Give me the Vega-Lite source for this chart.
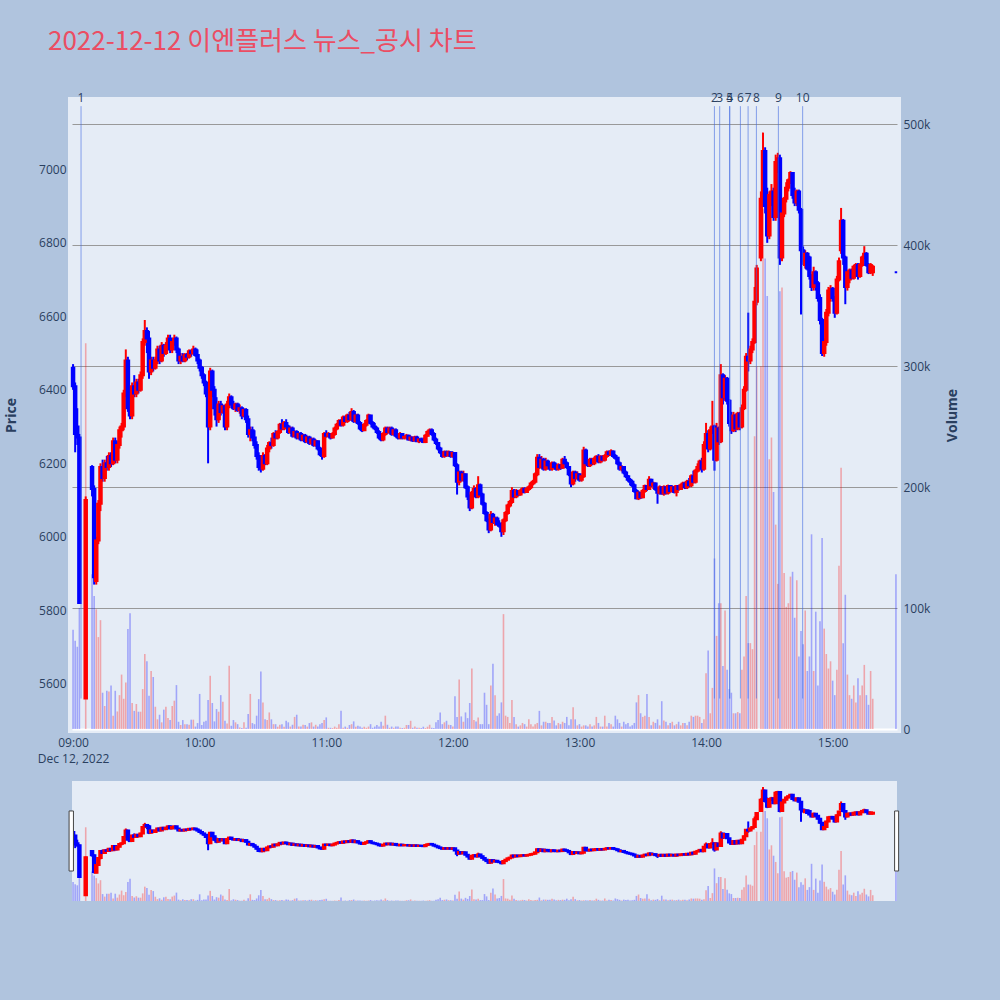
{
"$schema":"https://vega.github.io/schema/vega-lite/v6.json",
"padding":{"left":0,"top":29,"right":50,"bottom":110},
"background":"#B0C4DE",
"title":{"text":"2022-12-12 이엔플러스 뉴스_공시 차트","anchor":"start","frame":"group","font":"Noto Sans CJK KR","fontSize":26,"fontWeight":"normal","color":"#EB4D63","baseline":"alphabetic","offset":12,"dx":-24},
"config":{"view":{"stroke":null},"axis":{"labelFont":"Open Sans","labelFontSize":12,"labelColor":"#2a3f5f","titleFont":"Open Sans","titleColor":"#2a3f5f","titleFontSize":14,"titleFontWeight":"bold"}},
"datasets":{
"news":[{"tn":"2022-12-12T09:03:47Z","n":"1"},{"tn":"2022-12-12T14:03:58Z","n":"2"},{"tn":"2022-12-12T14:06:28Z","n":"3"},{"tn":"2022-12-12T14:11:13Z","n":"4"},{"tn":"2022-12-12T14:11:13Z","n":"5"},{"tn":"2022-12-12T14:16:17Z","n":"6"},{"tn":"2022-12-12T14:19:56Z","n":"7"},{"tn":"2022-12-12T14:23:52Z","n":"8"},{"tn":"2022-12-12T14:34:17Z","n":"9"},{"tn":"2022-12-12T14:45:47Z","n":"10"}],
"handles":[{"t0":"2022-12-12T08:58:07Z","t1":"2022-12-12T09:00:11Z"},{"t0":"2022-12-12T15:29:22Z","t1":"2022-12-12T15:31:16Z"}],
"candles":[
{"t":"2022-12-12T09:00Z","o":6460,"h":6470,"l":6400,"c":6410,"v":82000},
{"t":"2022-12-12T09:01Z","o":6410,"h":6420,"l":6230,"c":6280,"v":73000},
{"t":"2022-12-12T09:02Z","o":6300,"h":6350,"l":6250,"c":6270,"v":68000},
{"t":"2022-12-12T09:03Z","o":6270,"h":6280,"l":5820,"c":5820,"v":100000},
{"t":"2022-12-12T09:06Z","o":5560,"h":6110,"l":5560,"c":6100,"v":319000},
{"t":"2022-12-12T09:09Z","o":6190,"h":6195,"l":6110,"c":6130,"v":128000},
{"t":"2022-12-12T09:10Z","o":6130,"h":6140,"l":5870,"c":5890,"v":110000},
{"t":"2022-12-12T09:11Z","o":5880,"h":6000,"l":5870,"c":5990,"v":99000},
{"t":"2022-12-12T09:12Z","o":5990,"h":6100,"l":5980,"c":6090,"v":76000},
{"t":"2022-12-12T09:13Z","o":6090,"h":6200,"l":6070,"c":6190,"v":90000},
{"t":"2022-12-12T09:14Z","o":6190,"h":6210,"l":6150,"c":6160,"v":30000},
{"t":"2022-12-12T09:15Z","o":6160,"h":6210,"l":6150,"c":6200,"v":19000},
{"t":"2022-12-12T09:16Z","o":6200,"h":6220,"l":6180,"c":6190,"v":31600},
{"t":"2022-12-12T09:17Z","o":6190,"h":6230,"l":6180,"c":6220,"v":31000},
{"t":"2022-12-12T09:18Z","o":6220,"h":6230,"l":6190,"c":6200,"v":36000},
{"t":"2022-12-12T09:19Z","o":6200,"h":6270,"l":6195,"c":6260,"v":11000},
{"t":"2022-12-12T09:20Z","o":6260,"h":6270,"l":6200,"c":6210,"v":31600},
{"t":"2022-12-12T09:21Z","o":6210,"h":6260,"l":6200,"c":6250,"v":14500},
{"t":"2022-12-12T09:22Z","o":6250,"h":6300,"l":6240,"c":6290,"v":28000},
{"t":"2022-12-12T09:23Z","o":6290,"h":6310,"l":6270,"c":6300,"v":45000},
{"t":"2022-12-12T09:24Z","o":6300,"h":6400,"l":6290,"c":6390,"v":25000},
{"t":"2022-12-12T09:25Z","o":6390,"h":6510,"l":6380,"c":6480,"v":38500},
{"t":"2022-12-12T09:26Z","o":6480,"h":6490,"l":6340,"c":6350,"v":82600},
{"t":"2022-12-12T09:27Z","o":6350,"h":6370,"l":6320,"c":6330,"v":95800},
{"t":"2022-12-12T09:28Z","o":6330,"h":6420,"l":6320,"c":6410,"v":21500},
{"t":"2022-12-12T09:29Z","o":6410,"h":6440,"l":6380,"c":6390,"v":15000},
{"t":"2022-12-12T09:30Z","o":6390,"h":6430,"l":6380,"c":6420,"v":20600},
{"t":"2022-12-12T09:31Z","o":6420,"h":6430,"l":6390,"c":6400,"v":14300},
{"t":"2022-12-12T09:32Z","o":6400,"h":6450,"l":6395,"c":6440,"v":14300},
{"t":"2022-12-12T09:33Z","o":6440,"h":6540,"l":6430,"c":6530,"v":33000},
{"t":"2022-12-12T09:34Z","o":6530,"h":6590,"l":6520,"c":6560,"v":62000},
{"t":"2022-12-12T09:35Z","o":6560,"h":6570,"l":6500,"c":6540,"v":56000},
{"t":"2022-12-12T09:36Z","o":6540,"h":6560,"l":6430,"c":6450,"v":27500},
{"t":"2022-12-12T09:37Z","o":6450,"h":6490,"l":6440,"c":6480,"v":48000},
{"t":"2022-12-12T09:38Z","o":6480,"h":6490,"l":6450,"c":6460,"v":43000},
{"t":"2022-12-12T09:39Z","o":6460,"h":6490,"l":6455,"c":6480,"v":18400},
{"t":"2022-12-12T09:40Z","o":6480,"h":6520,"l":6470,"c":6510,"v":8000},
{"t":"2022-12-12T09:41Z","o":6510,"h":6520,"l":6470,"c":6480,"v":11800},
{"t":"2022-12-12T09:42Z","o":6480,"h":6530,"l":6475,"c":6520,"v":5500},
{"t":"2022-12-12T09:43Z","o":6520,"h":6525,"l":6490,"c":6500,"v":16000},
{"t":"2022-12-12T09:44Z","o":6500,"h":6530,"l":6495,"c":6520,"v":18400},
{"t":"2022-12-12T09:45Z","o":6520,"h":6550,"l":6510,"c":6540,"v":9000},
{"t":"2022-12-12T09:46Z","o":6540,"h":6550,"l":6500,"c":6510,"v":7400},
{"t":"2022-12-12T09:47Z","o":6510,"h":6540,"l":6500,"c":6530,"v":19000},
{"t":"2022-12-12T09:48Z","o":6530,"h":6550,"l":6520,"c":6540,"v":23400},
{"t":"2022-12-12T09:49Z","o":6540,"h":6545,"l":6500,"c":6510,"v":36300},
{"t":"2022-12-12T09:50Z","o":6510,"h":6515,"l":6470,"c":6480,"v":6000},
{"t":"2022-12-12T09:51Z","o":6480,"h":6500,"l":6470,"c":6490,"v":3300},
{"t":"2022-12-12T09:52Z","o":6490,"h":6500,"l":6475,"c":6480,"v":7400},
{"t":"2022-12-12T09:53Z","o":6480,"h":6500,"l":6475,"c":6495,"v":4000},
{"t":"2022-12-12T09:54Z","o":6495,"h":6500,"l":6480,"c":6490,"v":4000},
{"t":"2022-12-12T09:55Z","o":6490,"h":6510,"l":6485,"c":6505,"v":3500},
{"t":"2022-12-12T09:56Z","o":6505,"h":6510,"l":6490,"c":6500,"v":7700},
{"t":"2022-12-12T09:57Z","o":6500,"h":6520,"l":6495,"c":6510,"v":7700},
{"t":"2022-12-12T09:58Z","o":6510,"h":6515,"l":6490,"c":6495,"v":2000},
{"t":"2022-12-12T09:59Z","o":6495,"h":6510,"l":6470,"c":6480,"v":4900},
{"t":"2022-12-12T10:00Z","o":6480,"h":6485,"l":6450,"c":6460,"v":29000},
{"t":"2022-12-12T10:01Z","o":6460,"h":6465,"l":6430,"c":6440,"v":3300},
{"t":"2022-12-12T10:02Z","o":6440,"h":6445,"l":6410,"c":6420,"v":6000},
{"t":"2022-12-12T10:03Z","o":6420,"h":6425,"l":6380,"c":6390,"v":6800},
{"t":"2022-12-12T10:04Z","o":6390,"h":6400,"l":6200,"c":6300,"v":24000},
{"t":"2022-12-12T10:05Z","o":6300,"h":6460,"l":6290,"c":6450,"v":44000},
{"t":"2022-12-12T10:06Z","o":6450,"h":6455,"l":6380,"c":6400,"v":21500},
{"t":"2022-12-12T10:07Z","o":6400,"h":6410,"l":6330,"c":6350,"v":6300},
{"t":"2022-12-12T10:08Z","o":6350,"h":6380,"l":6300,"c":6320,"v":16500},
{"t":"2022-12-12T10:09Z","o":6320,"h":6370,"l":6310,"c":6360,"v":14300},
{"t":"2022-12-12T10:10Z","o":6360,"h":6370,"l":6330,"c":6340,"v":28000},
{"t":"2022-12-12T10:11Z","o":6340,"h":6360,"l":6335,"c":6355,"v":22500},
{"t":"2022-12-12T10:12Z","o":6355,"h":6360,"l":6290,"c":6300,"v":6800},
{"t":"2022-12-12T10:13Z","o":6300,"h":6370,"l":6290,"c":6360,"v":4600},
{"t":"2022-12-12T10:14Z","o":6360,"h":6390,"l":6350,"c":6380,"v":52300},
{"t":"2022-12-12T10:15Z","o":6380,"h":6385,"l":6350,"c":6360,"v":2700},
{"t":"2022-12-12T10:16Z","o":6360,"h":6370,"l":6345,"c":6350,"v":7400},
{"t":"2022-12-12T10:17Z","o":6350,"h":6365,"l":6340,"c":6360,"v":5500},
{"t":"2022-12-12T10:18Z","o":6360,"h":6365,"l":6340,"c":6345,"v":4000},
{"t":"2022-12-12T10:19Z","o":6345,"h":6360,"l":6335,"c":6350,"v":1300},
{"t":"2022-12-12T10:20Z","o":6350,"h":6355,"l":6320,"c":6330,"v":800},
{"t":"2022-12-12T10:21Z","o":6330,"h":6350,"l":6325,"c":6345,"v":5500},
{"t":"2022-12-12T10:22Z","o":6345,"h":6350,"l":6310,"c":6320,"v":1000},
{"t":"2022-12-12T10:23Z","o":6320,"h":6330,"l":6270,"c":6280,"v":12400},
{"t":"2022-12-12T10:24Z","o":6280,"h":6300,"l":6260,"c":6290,"v":29000},
{"t":"2022-12-12T10:25Z","o":6290,"h":6300,"l":6260,"c":6270,"v":4900},
{"t":"2022-12-12T10:26Z","o":6270,"h":6290,"l":6240,"c":6250,"v":4000},
{"t":"2022-12-12T10:27Z","o":6250,"h":6260,"l":6210,"c":6220,"v":11000},
{"t":"2022-12-12T10:28Z","o":6220,"h":6230,"l":6180,"c":6190,"v":24700},
{"t":"2022-12-12T10:29Z","o":6190,"h":6200,"l":6175,"c":6185,"v":47600},
{"t":"2022-12-12T10:30Z","o":6185,"h":6230,"l":6180,"c":6220,"v":22000},
{"t":"2022-12-12T10:31Z","o":6220,"h":6225,"l":6195,"c":6200,"v":8000},
{"t":"2022-12-12T10:32Z","o":6200,"h":6250,"l":6195,"c":6240,"v":7400},
{"t":"2022-12-12T10:33Z","o":6240,"h":6260,"l":6230,"c":6255,"v":13700},
{"t":"2022-12-12T10:34Z","o":6255,"h":6270,"l":6240,"c":6250,"v":8000},
{"t":"2022-12-12T10:35Z","o":6250,"h":6285,"l":6245,"c":6280,"v":4000},
{"t":"2022-12-12T10:36Z","o":6280,"h":6290,"l":6265,"c":6270,"v":4000},
{"t":"2022-12-12T10:37Z","o":6270,"h":6290,"l":6265,"c":6285,"v":1900},
{"t":"2022-12-12T10:38Z","o":6285,"h":6310,"l":6280,"c":6305,"v":3500},
{"t":"2022-12-12T10:39Z","o":6305,"h":6320,"l":6290,"c":6295,"v":4000},
{"t":"2022-12-12T10:40Z","o":6295,"h":6315,"l":6290,"c":6310,"v":1900},
{"t":"2022-12-12T10:41Z","o":6310,"h":6320,"l":6295,"c":6300,"v":6800},
{"t":"2022-12-12T10:42Z","o":6300,"h":6305,"l":6280,"c":6285,"v":5500},
{"t":"2022-12-12T10:43Z","o":6285,"h":6300,"l":6280,"c":6295,"v":2000},
{"t":"2022-12-12T10:44Z","o":6295,"h":6300,"l":6270,"c":6275,"v":3500},
{"t":"2022-12-12T10:45Z","o":6275,"h":6290,"l":6270,"c":6285,"v":10000},
{"t":"2022-12-12T10:46Z","o":6285,"h":6290,"l":6265,"c":6270,"v":11800},
{"t":"2022-12-12T10:47Z","o":6270,"h":6285,"l":6265,"c":6280,"v":2000},
{"t":"2022-12-12T10:48Z","o":6280,"h":6285,"l":6260,"c":6265,"v":2000},
{"t":"2022-12-12T10:49Z","o":6265,"h":6280,"l":6260,"c":6275,"v":3500},
{"t":"2022-12-12T10:50Z","o":6275,"h":6280,"l":6255,"c":6260,"v":3300},
{"t":"2022-12-12T10:51Z","o":6260,"h":6275,"l":6255,"c":6270,"v":2000},
{"t":"2022-12-12T10:52Z","o":6270,"h":6275,"l":6250,"c":6255,"v":4900},
{"t":"2022-12-12T10:53Z","o":6255,"h":6270,"l":6250,"c":6265,"v":5500},
{"t":"2022-12-12T10:54Z","o":6265,"h":6270,"l":6245,"c":6250,"v":2000},
{"t":"2022-12-12T10:55Z","o":6250,"h":6265,"l":6245,"c":6260,"v":3500},
{"t":"2022-12-12T10:56Z","o":6260,"h":6262,"l":6235,"c":6240,"v":2000},
{"t":"2022-12-12T10:57Z","o":6240,"h":6245,"l":6220,"c":6225,"v":4000},
{"t":"2022-12-12T10:58Z","o":6225,"h":6230,"l":6210,"c":6220,"v":4900},
{"t":"2022-12-12T10:59Z","o":6220,"h":6285,"l":6215,"c":6280,"v":7400},
{"t":"2022-12-12T11:00Z","o":6280,"h":6290,"l":6270,"c":6275,"v":9600},
{"t":"2022-12-12T11:01Z","o":6275,"h":6285,"l":6270,"c":6280,"v":1000},
{"t":"2022-12-12T11:02Z","o":6280,"h":6282,"l":6265,"c":6270,"v":1000},
{"t":"2022-12-12T11:03Z","o":6270,"h":6285,"l":6268,"c":6280,"v":800},
{"t":"2022-12-12T11:04Z","o":6280,"h":6300,"l":6275,"c":6295,"v":2000},
{"t":"2022-12-12T11:05Z","o":6295,"h":6310,"l":6290,"c":6305,"v":1000},
{"t":"2022-12-12T11:06Z","o":6305,"h":6320,"l":6300,"c":6315,"v":4000},
{"t":"2022-12-12T11:07Z","o":6315,"h":6320,"l":6300,"c":6305,"v":15000},
{"t":"2022-12-12T11:08Z","o":6305,"h":6330,"l":6300,"c":6325,"v":1000},
{"t":"2022-12-12T11:09Z","o":6325,"h":6330,"l":6310,"c":6315,"v":2000},
{"t":"2022-12-12T11:10Z","o":6315,"h":6335,"l":6310,"c":6330,"v":1000},
{"t":"2022-12-12T11:11Z","o":6330,"h":6340,"l":6315,"c":6320,"v":3300},
{"t":"2022-12-12T11:12Z","o":6320,"h":6350,"l":6315,"c":6340,"v":4000},
{"t":"2022-12-12T11:13Z","o":6340,"h":6345,"l":6310,"c":6315,"v":6300},
{"t":"2022-12-12T11:14Z","o":6315,"h":6335,"l":6310,"c":6330,"v":1900},
{"t":"2022-12-12T11:15Z","o":6330,"h":6335,"l":6305,"c":6310,"v":2700},
{"t":"2022-12-12T11:16Z","o":6310,"h":6315,"l":6290,"c":6295,"v":2000},
{"t":"2022-12-12T11:17Z","o":6295,"h":6300,"l":6285,"c":6290,"v":1000},
{"t":"2022-12-12T11:18Z","o":6290,"h":6310,"l":6288,"c":6305,"v":1900},
{"t":"2022-12-12T11:19Z","o":6305,"h":6320,"l":6300,"c":6315,"v":1000},
{"t":"2022-12-12T11:20Z","o":6315,"h":6335,"l":6310,"c":6330,"v":2000},
{"t":"2022-12-12T11:21Z","o":6330,"h":6332,"l":6305,"c":6310,"v":4000},
{"t":"2022-12-12T11:22Z","o":6310,"h":6315,"l":6295,"c":6300,"v":1000},
{"t":"2022-12-12T11:23Z","o":6300,"h":6310,"l":6290,"c":6295,"v":2000},
{"t":"2022-12-12T11:24Z","o":6295,"h":6300,"l":6280,"c":6285,"v":3300},
{"t":"2022-12-12T11:25Z","o":6285,"h":6290,"l":6265,"c":6270,"v":2000},
{"t":"2022-12-12T11:26Z","o":6270,"h":6275,"l":6260,"c":6265,"v":6000},
{"t":"2022-12-12T11:27Z","o":6265,"h":6285,"l":6260,"c":6280,"v":2700},
{"t":"2022-12-12T11:28Z","o":6280,"h":6300,"l":6275,"c":6295,"v":11000},
{"t":"2022-12-12T11:29Z","o":6295,"h":6300,"l":6280,"c":6285,"v":3500},
{"t":"2022-12-12T11:30Z","o":6285,"h":6300,"l":6280,"c":6295,"v":1000},
{"t":"2022-12-12T11:31Z","o":6295,"h":6300,"l":6275,"c":6280,"v":2000},
{"t":"2022-12-12T11:32Z","o":6280,"h":6295,"l":6275,"c":6290,"v":1000},
{"t":"2022-12-12T11:33Z","o":6290,"h":6295,"l":6270,"c":6275,"v":2000},
{"t":"2022-12-12T11:34Z","o":6275,"h":6280,"l":6265,"c":6270,"v":2000},
{"t":"2022-12-12T11:35Z","o":6270,"h":6285,"l":6265,"c":6280,"v":1000},
{"t":"2022-12-12T11:36Z","o":6280,"h":6282,"l":6265,"c":6270,"v":800},
{"t":"2022-12-12T11:37Z","o":6270,"h":6275,"l":6265,"c":6272,"v":1000},
{"t":"2022-12-12T11:38Z","o":6272,"h":6280,"l":6265,"c":6275,"v":3300},
{"t":"2022-12-12T11:39Z","o":6275,"h":6278,"l":6262,"c":6265,"v":3300},
{"t":"2022-12-12T11:40Z","o":6265,"h":6275,"l":6260,"c":6270,"v":6800},
{"t":"2022-12-12T11:41Z","o":6270,"h":6272,"l":6258,"c":6262,"v":1000},
{"t":"2022-12-12T11:42Z","o":6262,"h":6275,"l":6260,"c":6270,"v":2000},
{"t":"2022-12-12T11:43Z","o":6270,"h":6275,"l":6258,"c":6260,"v":1000},
{"t":"2022-12-12T11:44Z","o":6260,"h":6268,"l":6255,"c":6265,"v":1000},
{"t":"2022-12-12T11:45Z","o":6265,"h":6270,"l":6258,"c":6262,"v":800},
{"t":"2022-12-12T11:46Z","o":6262,"h":6270,"l":6255,"c":6258,"v":1900},
{"t":"2022-12-12T11:47Z","o":6258,"h":6280,"l":6255,"c":6275,"v":800},
{"t":"2022-12-12T11:48Z","o":6275,"h":6290,"l":6272,"c":6285,"v":1900},
{"t":"2022-12-12T11:49Z","o":6285,"h":6295,"l":6280,"c":6290,"v":3500},
{"t":"2022-12-12T11:50Z","o":6290,"h":6295,"l":6275,"c":6280,"v":1000},
{"t":"2022-12-12T11:51Z","o":6280,"h":6285,"l":6260,"c":6265,"v":800},
{"t":"2022-12-12T11:52Z","o":6265,"h":6270,"l":6250,"c":6255,"v":5500},
{"t":"2022-12-12T11:53Z","o":6255,"h":6258,"l":6235,"c":6240,"v":7400},
{"t":"2022-12-12T11:54Z","o":6240,"h":6245,"l":6225,"c":6230,"v":13700},
{"t":"2022-12-12T11:55Z","o":6230,"h":6232,"l":6215,"c":6220,"v":4000},
{"t":"2022-12-12T11:56Z","o":6220,"h":6235,"l":6215,"c":6230,"v":5500},
{"t":"2022-12-12T11:57Z","o":6230,"h":6235,"l":6218,"c":6222,"v":6800},
{"t":"2022-12-12T11:58Z","o":6222,"h":6235,"l":6218,"c":6230,"v":3500},
{"t":"2022-12-12T11:59Z","o":6230,"h":6232,"l":6215,"c":6220,"v":3300},
{"t":"2022-12-12T12:00Z","o":6220,"h":6232,"l":6215,"c":6228,"v":2000},
{"t":"2022-12-12T12:01Z","o":6228,"h":6230,"l":6190,"c":6195,"v":27000},
{"t":"2022-12-12T12:02Z","o":6195,"h":6200,"l":6115,"c":6150,"v":10000},
{"t":"2022-12-12T12:03Z","o":6150,"h":6180,"l":6140,"c":6175,"v":41000},
{"t":"2022-12-12T12:04Z","o":6175,"h":6180,"l":6150,"c":6155,"v":10400},
{"t":"2022-12-12T12:05Z","o":6155,"h":6180,"l":6150,"c":6170,"v":6000},
{"t":"2022-12-12T12:06Z","o":6170,"h":6172,"l":6130,"c":6135,"v":13700},
{"t":"2022-12-12T12:07Z","o":6135,"h":6140,"l":6100,"c":6110,"v":9000},
{"t":"2022-12-12T12:08Z","o":6110,"h":6115,"l":6070,"c":6080,"v":21500},
{"t":"2022-12-12T12:09Z","o":6080,"h":6125,"l":6075,"c":6120,"v":50000},
{"t":"2022-12-12T12:10Z","o":6120,"h":6140,"l":6110,"c":6130,"v":7400},
{"t":"2022-12-12T12:11Z","o":6130,"h":6135,"l":6105,"c":6110,"v":6300},
{"t":"2022-12-12T12:12Z","o":6110,"h":6165,"l":6105,"c":6140,"v":9600},
{"t":"2022-12-12T12:13Z","o":6140,"h":6145,"l":6110,"c":6115,"v":4000},
{"t":"2022-12-12T12:14Z","o":6115,"h":6120,"l":6085,"c":6090,"v":4000},
{"t":"2022-12-12T12:15Z","o":6090,"h":6095,"l":6060,"c":6065,"v":30000},
{"t":"2022-12-12T12:16Z","o":6065,"h":6070,"l":6040,"c":6045,"v":20000},
{"t":"2022-12-12T12:17Z","o":6045,"h":6050,"l":6010,"c":6020,"v":4000},
{"t":"2022-12-12T12:18Z","o":6020,"h":6070,"l":6015,"c":6060,"v":36000},
{"t":"2022-12-12T12:19Z","o":6060,"h":6065,"l":6035,"c":6040,"v":54000},
{"t":"2022-12-12T12:20Z","o":6040,"h":6055,"l":6030,"c":6050,"v":28000},
{"t":"2022-12-12T12:21Z","o":6050,"h":6055,"l":6030,"c":6035,"v":11000},
{"t":"2022-12-12T12:22Z","o":6035,"h":6045,"l":6025,"c":6030,"v":13000},
{"t":"2022-12-12T12:23Z","o":6030,"h":6040,"l":6000,"c":6015,"v":22000},
{"t":"2022-12-12T12:24Z","o":6015,"h":6050,"l":6005,"c":6045,"v":95000},
{"t":"2022-12-12T12:25Z","o":6045,"h":6070,"l":6040,"c":6065,"v":11000},
{"t":"2022-12-12T12:26Z","o":6065,"h":6090,"l":6060,"c":6085,"v":10000},
{"t":"2022-12-12T12:27Z","o":6085,"h":6100,"l":6080,"c":6095,"v":5000},
{"t":"2022-12-12T12:28Z","o":6095,"h":6135,"l":6090,"c":6125,"v":24000},
{"t":"2022-12-12T12:29Z","o":6125,"h":6130,"l":6105,"c":6110,"v":10000},
{"t":"2022-12-12T12:30Z","o":6110,"h":6130,"l":6105,"c":6125,"v":4000},
{"t":"2022-12-12T12:31Z","o":6125,"h":6128,"l":6110,"c":6115,"v":2000},
{"t":"2022-12-12T12:32Z","o":6115,"h":6130,"l":6112,"c":6125,"v":3000},
{"t":"2022-12-12T12:33Z","o":6125,"h":6135,"l":6118,"c":6130,"v":5000},
{"t":"2022-12-12T12:34Z","o":6130,"h":6135,"l":6118,"c":6122,"v":4000},
{"t":"2022-12-12T12:35Z","o":6122,"h":6135,"l":6120,"c":6130,"v":2000},
{"t":"2022-12-12T12:36Z","o":6130,"h":6140,"l":6125,"c":6135,"v":8000},
{"t":"2022-12-12T12:37Z","o":6135,"h":6150,"l":6130,"c":6145,"v":4000},
{"t":"2022-12-12T12:38Z","o":6145,"h":6155,"l":6140,"c":6150,"v":2000},
{"t":"2022-12-12T12:39Z","o":6150,"h":6175,"l":6145,"c":6170,"v":4000},
{"t":"2022-12-12T12:40Z","o":6170,"h":6225,"l":6165,"c":6215,"v":5000},
{"t":"2022-12-12T12:41Z","o":6215,"h":6225,"l":6185,"c":6190,"v":15000},
{"t":"2022-12-12T12:42Z","o":6190,"h":6220,"l":6185,"c":6210,"v":3000},
{"t":"2022-12-12T12:43Z","o":6210,"h":6215,"l":6180,"c":6185,"v":6000},
{"t":"2022-12-12T12:44Z","o":6185,"h":6215,"l":6180,"c":6205,"v":6000},
{"t":"2022-12-12T12:45Z","o":6205,"h":6210,"l":6190,"c":6195,"v":5000},
{"t":"2022-12-12T12:46Z","o":6195,"h":6200,"l":6180,"c":6185,"v":5000},
{"t":"2022-12-12T12:47Z","o":6185,"h":6205,"l":6180,"c":6200,"v":10000},
{"t":"2022-12-12T12:48Z","o":6200,"h":6205,"l":6185,"c":6190,"v":7000},
{"t":"2022-12-12T12:49Z","o":6190,"h":6200,"l":6180,"c":6185,"v":3000},
{"t":"2022-12-12T12:50Z","o":6185,"h":6200,"l":6180,"c":6195,"v":5000},
{"t":"2022-12-12T12:51Z","o":6195,"h":6198,"l":6182,"c":6188,"v":4000},
{"t":"2022-12-12T12:52Z","o":6188,"h":6215,"l":6185,"c":6210,"v":6000},
{"t":"2022-12-12T12:53Z","o":6210,"h":6220,"l":6195,"c":6200,"v":5000},
{"t":"2022-12-12T12:54Z","o":6200,"h":6205,"l":6185,"c":6190,"v":10000},
{"t":"2022-12-12T12:55Z","o":6190,"h":6192,"l":6165,"c":6170,"v":3000},
{"t":"2022-12-12T12:56Z","o":6170,"h":6175,"l":6135,"c":6145,"v":8000},
{"t":"2022-12-12T12:57Z","o":6145,"h":6180,"l":6140,"c":6175,"v":18000},
{"t":"2022-12-12T12:58Z","o":6175,"h":6180,"l":6150,"c":6160,"v":8000},
{"t":"2022-12-12T12:59Z","o":6160,"h":6178,"l":6155,"c":6170,"v":3000},
{"t":"2022-12-12T13:00Z","o":6170,"h":6172,"l":6150,"c":6155,"v":4000},
{"t":"2022-12-12T13:01Z","o":6155,"h":6168,"l":6150,"c":6165,"v":2000},
{"t":"2022-12-12T13:02Z","o":6165,"h":6245,"l":6160,"c":6235,"v":3000},
{"t":"2022-12-12T13:03Z","o":6235,"h":6240,"l":6195,"c":6200,"v":3000},
{"t":"2022-12-12T13:04Z","o":6200,"h":6210,"l":6190,"c":6195,"v":2000},
{"t":"2022-12-12T13:05Z","o":6195,"h":6215,"l":6190,"c":6210,"v":4000},
{"t":"2022-12-12T13:06Z","o":6210,"h":6215,"l":6195,"c":6200,"v":2000},
{"t":"2022-12-12T13:07Z","o":6200,"h":6218,"l":6195,"c":6212,"v":3000},
{"t":"2022-12-12T13:08Z","o":6212,"h":6222,"l":6205,"c":6218,"v":10000},
{"t":"2022-12-12T13:09Z","o":6218,"h":6225,"l":6200,"c":6205,"v":5000},
{"t":"2022-12-12T13:10Z","o":6205,"h":6222,"l":6200,"c":6218,"v":2000},
{"t":"2022-12-12T13:11Z","o":6218,"h":6222,"l":6205,"c":6210,"v":2000},
{"t":"2022-12-12T13:12Z","o":6210,"h":6225,"l":6205,"c":6220,"v":11000},
{"t":"2022-12-12T13:13Z","o":6220,"h":6235,"l":6215,"c":6230,"v":2000},
{"t":"2022-12-12T13:14Z","o":6230,"h":6235,"l":6220,"c":6225,"v":5000},
{"t":"2022-12-12T13:15Z","o":6225,"h":6238,"l":6220,"c":6232,"v":4000},
{"t":"2022-12-12T13:16Z","o":6232,"h":6235,"l":6215,"c":6220,"v":2000},
{"t":"2022-12-12T13:17Z","o":6220,"h":6225,"l":6210,"c":6215,"v":11000},
{"t":"2022-12-12T13:18Z","o":6215,"h":6218,"l":6195,"c":6200,"v":8000},
{"t":"2022-12-12T13:19Z","o":6200,"h":6205,"l":6180,"c":6185,"v":5000},
{"t":"2022-12-12T13:20Z","o":6185,"h":6195,"l":6178,"c":6190,"v":2000},
{"t":"2022-12-12T13:21Z","o":6190,"h":6192,"l":6170,"c":6175,"v":6000},
{"t":"2022-12-12T13:22Z","o":6175,"h":6180,"l":6160,"c":6165,"v":4000},
{"t":"2022-12-12T13:23Z","o":6165,"h":6168,"l":6150,"c":6155,"v":5000},
{"t":"2022-12-12T13:24Z","o":6155,"h":6160,"l":6140,"c":6150,"v":2000},
{"t":"2022-12-12T13:25Z","o":6150,"h":6155,"l":6135,"c":6140,"v":3000},
{"t":"2022-12-12T13:26Z","o":6140,"h":6145,"l":6120,"c":6125,"v":5000},
{"t":"2022-12-12T13:27Z","o":6125,"h":6130,"l":6102,"c":6105,"v":22000},
{"t":"2022-12-12T13:28Z","o":6105,"h":6125,"l":6100,"c":6120,"v":28000},
{"t":"2022-12-12T13:29Z","o":6120,"h":6122,"l":6103,"c":6108,"v":13000},
{"t":"2022-12-12T13:30Z","o":6108,"h":6130,"l":6105,"c":6125,"v":10000},
{"t":"2022-12-12T13:31Z","o":6125,"h":6142,"l":6120,"c":6138,"v":11000},
{"t":"2022-12-12T13:32Z","o":6138,"h":6140,"l":6125,"c":6130,"v":29000},
{"t":"2022-12-12T13:33Z","o":6130,"h":6165,"l":6128,"c":6155,"v":10000},
{"t":"2022-12-12T13:34Z","o":6155,"h":6158,"l":6135,"c":6140,"v":3000},
{"t":"2022-12-12T13:35Z","o":6140,"h":6150,"l":6130,"c":6145,"v":6000},
{"t":"2022-12-12T13:36Z","o":6145,"h":6148,"l":6125,"c":6130,"v":5000},
{"t":"2022-12-12T13:37Z","o":6130,"h":6135,"l":6090,"c":6120,"v":8000},
{"t":"2022-12-12T13:38Z","o":6120,"h":6140,"l":6115,"c":6135,"v":3000},
{"t":"2022-12-12T13:39Z","o":6135,"h":6138,"l":6115,"c":6118,"v":23000},
{"t":"2022-12-12T13:40Z","o":6118,"h":6140,"l":6112,"c":6135,"v":7000},
{"t":"2022-12-12T13:41Z","o":6135,"h":6138,"l":6115,"c":6120,"v":6000},
{"t":"2022-12-12T13:42Z","o":6120,"h":6142,"l":6115,"c":6138,"v":3000},
{"t":"2022-12-12T13:43Z","o":6138,"h":6140,"l":6120,"c":6125,"v":5000},
{"t":"2022-12-12T13:44Z","o":6125,"h":6140,"l":6120,"c":6135,"v":6000},
{"t":"2022-12-12T13:45Z","o":6135,"h":6138,"l":6118,"c":6122,"v":3000},
{"t":"2022-12-12T13:46Z","o":6122,"h":6140,"l":6110,"c":6138,"v":4000},
{"t":"2022-12-12T13:47Z","o":6138,"h":6140,"l":6125,"c":6130,"v":6000},
{"t":"2022-12-12T13:48Z","o":6130,"h":6145,"l":6128,"c":6140,"v":3000},
{"t":"2022-12-12T13:49Z","o":6140,"h":6150,"l":6132,"c":6145,"v":5000},
{"t":"2022-12-12T13:50Z","o":6145,"h":6150,"l":6130,"c":6135,"v":5000},
{"t":"2022-12-12T13:51Z","o":6135,"h":6155,"l":6130,"c":6150,"v":3000},
{"t":"2022-12-12T13:52Z","o":6150,"h":6160,"l":6135,"c":6140,"v":6000},
{"t":"2022-12-12T13:53Z","o":6140,"h":6170,"l":6135,"c":6165,"v":11000},
{"t":"2022-12-12T13:54Z","o":6165,"h":6180,"l":6145,"c":6150,"v":10000},
{"t":"2022-12-12T13:55Z","o":6150,"h":6185,"l":6145,"c":6180,"v":11000},
{"t":"2022-12-12T13:56Z","o":6180,"h":6200,"l":6175,"c":6190,"v":11000},
{"t":"2022-12-12T13:57Z","o":6190,"h":6210,"l":6180,"c":6205,"v":10000},
{"t":"2022-12-12T13:58Z","o":6205,"h":6215,"l":6175,"c":6185,"v":5000},
{"t":"2022-12-12T13:59Z","o":6185,"h":6260,"l":6180,"c":6250,"v":8000},
{"t":"2022-12-12T14:00Z","o":6250,"h":6310,"l":6240,"c":6280,"v":46000},
{"t":"2022-12-12T14:01Z","o":6280,"h":6290,"l":6230,"c":6240,"v":65000},
{"t":"2022-12-12T14:02Z","o":6240,"h":6300,"l":6235,"c":6290,"v":13000},
{"t":"2022-12-12T14:03Z","o":6290,"h":6370,"l":6280,"c":6300,"v":34000},
{"t":"2022-12-12T14:04Z","o":6300,"h":6305,"l":6180,"c":6210,"v":141000},
{"t":"2022-12-12T14:05Z","o":6210,"h":6310,"l":6205,"c":6295,"v":77000},
{"t":"2022-12-12T14:06Z","o":6295,"h":6300,"l":6250,"c":6260,"v":104000},
{"t":"2022-12-12T14:07Z","o":6260,"h":6470,"l":6255,"c":6440,"v":104000},
{"t":"2022-12-12T14:08Z","o":6440,"h":6445,"l":6360,"c":6380,"v":52000},
{"t":"2022-12-12T14:09Z","o":6380,"h":6440,"l":6370,"c":6430,"v":98000},
{"t":"2022-12-12T14:10Z","o":6430,"h":6435,"l":6360,"c":6370,"v":49000},
{"t":"2022-12-12T14:11Z","o":6370,"h":6375,"l":6300,"c":6310,"v":33000},
{"t":"2022-12-12T14:12Z","o":6310,"h":6340,"l":6280,"c":6290,"v":30000},
{"t":"2022-12-12T14:13Z","o":6290,"h":6340,"l":6285,"c":6330,"v":13000},
{"t":"2022-12-12T14:14Z","o":6330,"h":6335,"l":6285,"c":6295,"v":13000},
{"t":"2022-12-12T14:15Z","o":6295,"h":6340,"l":6290,"c":6335,"v":14000},
{"t":"2022-12-12T14:16Z","o":6335,"h":6340,"l":6290,"c":6300,"v":13000},
{"t":"2022-12-12T14:17Z","o":6300,"h":6360,"l":6295,"c":6350,"v":49000},
{"t":"2022-12-12T14:18Z","o":6350,"h":6410,"l":6345,"c":6400,"v":60000},
{"t":"2022-12-12T14:19Z","o":6400,"h":6500,"l":6395,"c":6490,"v":110000},
{"t":"2022-12-12T14:20Z","o":6490,"h":6610,"l":6450,"c":6480,"v":71000},
{"t":"2022-12-12T14:21Z","o":6480,"h":6520,"l":6470,"c":6510,"v":71000},
{"t":"2022-12-12T14:22Z","o":6510,"h":6540,"l":6500,"c":6530,"v":66000},
{"t":"2022-12-12T14:23Z","o":6530,"h":6680,"l":6525,"c":6640,"v":242000},
{"t":"2022-12-12T14:24Z","o":6640,"h":6740,"l":6630,"c":6730,"v":300000},
{"t":"2022-12-12T14:26Z","o":6760,"h":6940,"l":6750,"c":6920,"v":300000},
{"t":"2022-12-12T14:27Z","o":6920,"h":7100,"l":6900,"c":7050,"v":430000},
{"t":"2022-12-12T14:28Z","o":7050,"h":7060,"l":6880,"c":6900,"v":389000},
{"t":"2022-12-12T14:29Z","o":6900,"h":6950,"l":6800,"c":6820,"v":358000},
{"t":"2022-12-12T14:30Z","o":6820,"h":6940,"l":6810,"c":6930,"v":223000},
{"t":"2022-12-12T14:31Z","o":6930,"h":6960,"l":6900,"c":6940,"v":241000},
{"t":"2022-12-12T14:32Z","o":6940,"h":6950,"l":6860,"c":6870,"v":196000},
{"t":"2022-12-12T14:33Z","o":6870,"h":7040,"l":6860,"c":7020,"v":169000},
{"t":"2022-12-12T14:34Z","o":7020,"h":7045,"l":6990,"c":7030,"v":120000},
{"t":"2022-12-12T14:35Z","o":7030,"h":7040,"l":6740,"c":6760,"v":362000},
{"t":"2022-12-12T14:36Z","o":6760,"h":6900,"l":6750,"c":6880,"v":365000},
{"t":"2022-12-12T14:37Z","o":6880,"h":6925,"l":6870,"c":6920,"v":129000},
{"t":"2022-12-12T14:38Z","o":6920,"h":6965,"l":6910,"c":6950,"v":101000},
{"t":"2022-12-12T14:39Z","o":6950,"h":6975,"l":6940,"c":6970,"v":104000},
{"t":"2022-12-12T14:40Z","o":6970,"h":6995,"l":6960,"c":6990,"v":126000},
{"t":"2022-12-12T14:41Z","o":6990,"h":6992,"l":6920,"c":6930,"v":130000},
{"t":"2022-12-12T14:42Z","o":6930,"h":6950,"l":6900,"c":6910,"v":92000},
{"t":"2022-12-12T14:43Z","o":6910,"h":6945,"l":6900,"c":6940,"v":123000},
{"t":"2022-12-12T14:44Z","o":6940,"h":6945,"l":6880,"c":6890,"v":60000},
{"t":"2022-12-12T14:45Z","o":6890,"h":6895,"l":6605,"c":6780,"v":81000},
{"t":"2022-12-12T14:46Z","o":6780,"h":6790,"l":6740,"c":6750,"v":70000},
{"t":"2022-12-12T14:47Z","o":6740,"h":6780,"l":6730,"c":6770,"v":98000},
{"t":"2022-12-12T14:48Z","o":6770,"h":6775,"l":6725,"c":6730,"v":48000},
{"t":"2022-12-12T14:49Z","o":6760,"h":6765,"l":6700,"c":6710,"v":60000},
{"t":"2022-12-12T14:50Z","o":6710,"h":6715,"l":6669,"c":6680,"v":161000},
{"t":"2022-12-12T14:51Z","o":6680,"h":6735,"l":6670,"c":6720,"v":48000},
{"t":"2022-12-12T14:52Z","o":6720,"h":6725,"l":6670,"c":6690,"v":97000},
{"t":"2022-12-12T14:53Z","o":6690,"h":6696,"l":6640,"c":6650,"v":36000},
{"t":"2022-12-12T14:54Z","o":6650,"h":6660,"l":6578,"c":6590,"v":89000},
{"t":"2022-12-12T14:55Z","o":6590,"h":6596,"l":6492,"c":6500,"v":158000},
{"t":"2022-12-12T14:56Z","o":6500,"h":6540,"l":6490,"c":6530,"v":83000},
{"t":"2022-12-12T14:57Z","o":6530,"h":6620,"l":6520,"c":6610,"v":62000},
{"t":"2022-12-12T14:58Z","o":6610,"h":6680,"l":6600,"c":6670,"v":50000},
{"t":"2022-12-12T14:59Z","o":6660,"h":6685,"l":6640,"c":6675,"v":56000},
{"t":"2022-12-12T15:00Z","o":6675,"h":6680,"l":6640,"c":6650,"v":40000},
{"t":"2022-12-12T15:01Z","o":6650,"h":6655,"l":6596,"c":6610,"v":28000},
{"t":"2022-12-12T15:02Z","o":6610,"h":6710,"l":6605,"c":6700,"v":49000},
{"t":"2022-12-12T15:03Z","o":6700,"h":6760,"l":6695,"c":6750,"v":135000},
{"t":"2022-12-12T15:04Z","o":6780,"h":6895,"l":6770,"c":6860,"v":216000},
{"t":"2022-12-12T15:05Z","o":6860,"h":6865,"l":6740,"c":6760,"v":71000},
{"t":"2022-12-12T15:06Z","o":6760,"h":6765,"l":6633,"c":6680,"v":111000},
{"t":"2022-12-12T15:07Z","o":6680,"h":6725,"l":6670,"c":6720,"v":45000},
{"t":"2022-12-12T15:08Z","o":6700,"h":6730,"l":6690,"c":6725,"v":28000},
{"t":"2022-12-12T15:09Z","o":6725,"h":6730,"l":6700,"c":6705,"v":25000},
{"t":"2022-12-12T15:10Z","o":6705,"h":6740,"l":6700,"c":6735,"v":36000},
{"t":"2022-12-12T15:11Z","o":6730,"h":6745,"l":6720,"c":6740,"v":22000},
{"t":"2022-12-12T15:12Z","o":6740,"h":6745,"l":6700,"c":6710,"v":42000},
{"t":"2022-12-12T15:13Z","o":6710,"h":6745,"l":6705,"c":6740,"v":28000},
{"t":"2022-12-12T15:14Z","o":6740,"h":6765,"l":6735,"c":6760,"v":36000},
{"t":"2022-12-12T15:15Z","o":6760,"h":6791,"l":6755,"c":6770,"v":53000},
{"t":"2022-12-12T15:16Z","o":6770,"h":6775,"l":6735,"c":6740,"v":28000},
{"t":"2022-12-12T15:17Z","o":6740,"h":6745,"l":6715,"c":6720,"v":20000},
{"t":"2022-12-12T15:18Z","o":6720,"h":6745,"l":6715,"c":6740,"v":48000},
{"t":"2022-12-12T15:19Z","o":6720,"h":6740,"l":6710,"c":6735,"v":25000},
{"t":"2022-12-12T15:30Z","o":6720,"h":6720,"l":6720,"c":6720,"v":128000}
]},
"vconcat":[
{
"width":825,"height":628,
"view":{"fill":"#E5ECF6","stroke":"#E5ECF6","strokeWidth":8},
"data":{"name":"candles"},
"encoding":{"x":{"field":"t","type":"temporal","title":null,"scale":{"type":"utc","nice":false,"padding":0,"domain":[1670835570000,1670859030000]},
"axis":{"values":[1670835600000,1670839200000,1670842800000,1670846400000,1670850000000,1670853600000,1670857200000],"labelExpr":"utcFormat(datum.value, '%H:%M') == '09:00' ? ['09:00', 'Dec 12, 2022'] : utcFormat(datum.value, '%H:%M')","grid":false,"domain":false,"ticks":false,"tickSize":0,"labelPadding":8,"labelLineHeight":16,"labelFlush":false}}},
"layer":[
{"mark":{"type":"bar","width":1.6,"opacity":0.3},
"encoding":{"y":{"field":"v","type":"quantitative","title":"Volume","scale":{"domain":[0,519300],"nice":false,"zero":false},
"axis":{"orient":"right","values":[0,100000,200000,300000,400000,500000],"labelExpr":"datum.value == 0 ? '0' : format(datum.value/1000, 'd') + 'k'","domain":false,"ticks":false,"tickSize":0,"labelPadding":6,"titlePadding":30,"titleAngle":270,
"gridColor":{"condition":{"test":"datum.value == 0","value":"#FFFFFF"},"value":"#999999"},"gridWidth":{"condition":{"test":"datum.value == 0","value":2},"value":1}}},
"color":{"condition":{"test":"datum.c > datum.o","value":"#FF0000"},"value":"#0000FF"}}},
{"layer":[
{"mark":{"type":"rule","strokeWidth":2},
"encoding":{"y":{"field":"l","type":"quantitative","title":"Price","scale":{"domain":[5477,7186],"nice":false,"zero":false},
"axis":{"values":[5600,5800,6000,6200,6400,6600,6800,7000],"format":"d","domain":false,"ticks":false,"tickSize":0,"labelPadding":6,"titlePadding":20,"gridColor":"#FFFFFF","gridWidth":1}},
"y2":{"field":"h"},
"color":{"condition":{"test":"datum.c > datum.o","value":"#FF0000"},"value":"#0000FF"}}},
{"mark":{"type":"bar","width":2.5,"strokeWidth":2},
"encoding":{"y":{"field":"o","type":"quantitative","title":"Price"},"y2":{"field":"c"},
"color":{"condition":{"test":"datum.c > datum.o","value":"#FF0000"},"value":"#0000FF"},
"stroke":{"condition":{"test":"datum.c > datum.o","value":"#FF0000"},"value":"#0000FF"}}},
{"data":{"name":"news"},
"mark":{"type":"rule","color":"#4169E1","opacity":0.6,"strokeWidth":1},
"encoding":{"x":{"field":"tn","type":"temporal"},"y":{"datum":5560},"y2":{"datum":7172}}},
{"data":{"name":"news"},
"mark":{"type":"text","font":"Open Sans","fontSize":12,"color":"#2a3f5f","baseline":"alphabetic","dy":-4},
"encoding":{"x":{"field":"tn","type":"temporal"},"y":{"datum":7172},"text":{"field":"n"}}}
]}
],
"resolve":{"scale":{"y":"independent"}}
},
{
"width":825,"height":120,
"view":{"fill":"#E5ECF6","stroke":null},
"data":{"name":"candles"},
"encoding":{"x":{"field":"t","type":"temporal","scale":{"type":"utc","nice":false,"padding":0,"domain":[1670835570000,1670859030000]},"axis":null}},
"layer":[
{"mark":{"type":"bar","width":1.6,"opacity":0.3},
"encoding":{"y":{"field":"v","type":"quantitative","scale":{"domain":[0,519300],"nice":false,"zero":false},"axis":null},
"color":{"condition":{"test":"datum.c > datum.o","value":"#FF0000"},"value":"#0000FF"}}},
{"layer":[
{"mark":{"type":"rule","strokeWidth":2},
"encoding":{"y":{"field":"l","type":"quantitative","scale":{"domain":[5477,7186],"nice":false,"zero":false},"axis":null},"y2":{"field":"h"},
"color":{"condition":{"test":"datum.c > datum.o","value":"#FF0000"},"value":"#0000FF"}}},
{"mark":{"type":"bar","width":2.5,"strokeWidth":2},
"encoding":{"y":{"field":"o","type":"quantitative","axis":null},"y2":{"field":"c"},
"color":{"condition":{"test":"datum.c > datum.o","value":"#FF0000"},"value":"#0000FF"},
"stroke":{"condition":{"test":"datum.c > datum.o","value":"#FF0000"},"value":"#0000FF"}}},
{"data":{"name":"handles"},
"mark":{"type":"rect","fill":"#FFFFFF","stroke":"#444444","strokeWidth":1},
"encoding":{"x":{"field":"t0","type":"temporal"},"x2":{"field":"t1"},"y":{"datum":5904},"y2":{"datum":6759}}}
]}
],
"resolve":{"scale":{"y":"independent"}}
}
],
"spacing":52,
"bounds":"flush",
"resolve":{"scale":{"x":"independent","y":"independent"}}
}
